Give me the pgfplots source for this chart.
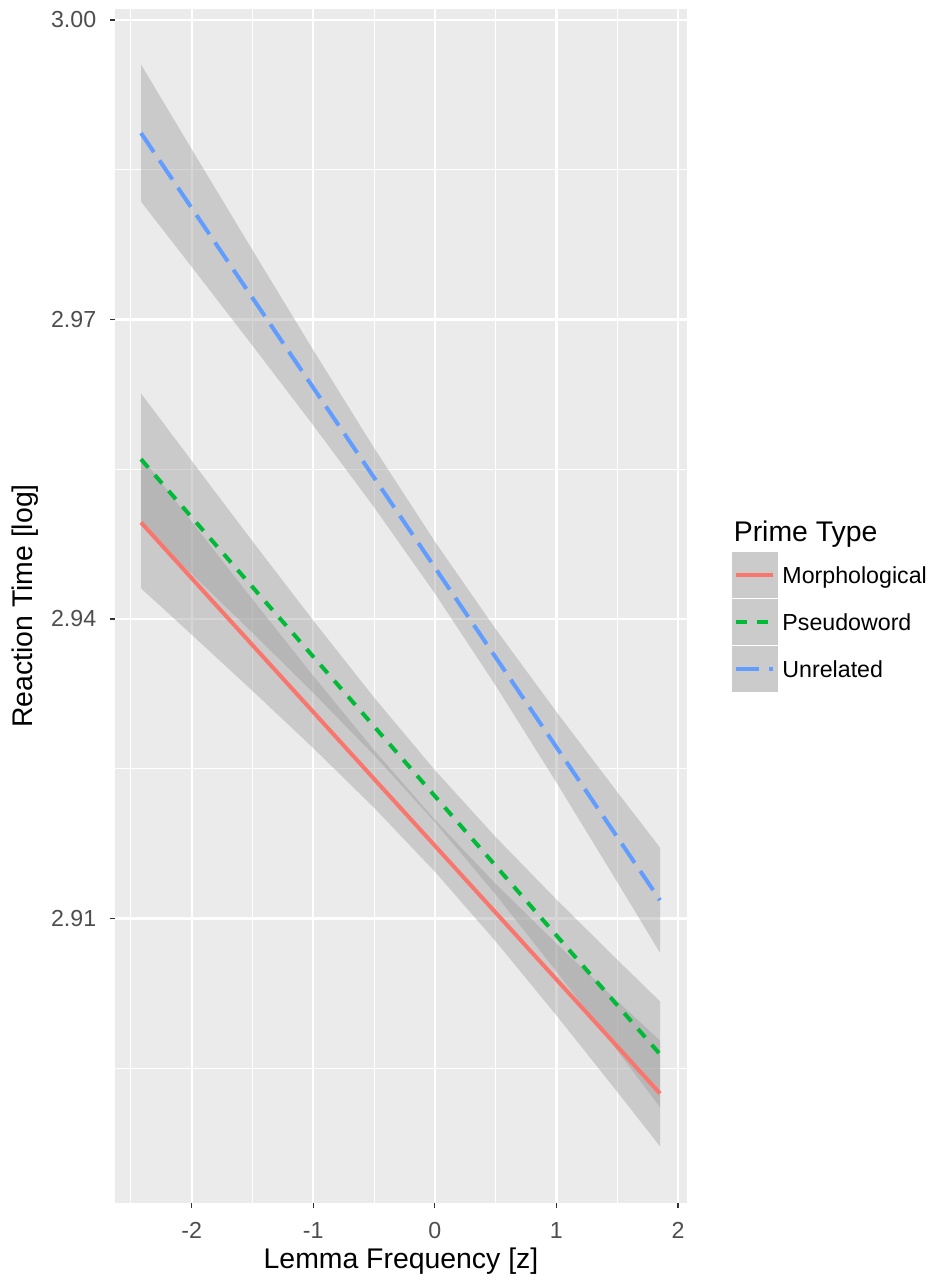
\documentclass[border=0pt]{standalone}
\usepackage{fontspec}
\setmainfont{Liberation Sans}
\usepackage{pgfplots}
\pgfplotsset{compat=1.18}
\usepgfplotslibrary{fillbetween}
\usepackage{pgfplotstable}

\definecolor{panelbg}{HTML}{EBEBEB}
\definecolor{ribbon}{HTML}{999999}
\definecolor{keybg}{HTML}{CBCBCB}
\definecolor{morph}{HTML}{F8766D}
\definecolor{pseudo}{HTML}{00BA38}
\definecolor{unrel}{HTML}{619CFF}
\definecolor{ticktext}{HTML}{4D4D4D}
\definecolor{tickline}{HTML}{333333}

% fitted line (y) and confidence band (lo, hi) per prime type
\pgfplotstableread{
x      y       lo      hi
-2.417 2.94967 2.94307 2.95627
-2.0   2.94408 2.93842 2.94974
-1.5   2.93738 2.93280 2.94196
-1.0   2.93068 2.92706 2.93430
-0.5   2.92398 2.92109 2.92687
0.0    2.91729 2.91469 2.91989
0.5    2.91059 2.90771 2.91347
1.0    2.90389 2.90029 2.90749
1.5    2.89719 2.89264 2.90174
1.852  2.89247 2.88717 2.89777
}\morph

\pgfplotstableread{
x      y       lo      hi
-2.417 2.95600 2.94940 2.96260
-2.0   2.95018 2.94452 2.95584
-1.5   2.94320 2.93862 2.94778
-1.0   2.93622 2.93260 2.93984
-0.5   2.92924 2.92635 2.93213
0.0    2.92226 2.91966 2.92486
0.5    2.91528 2.91240 2.91816
1.0    2.90830 2.90470 2.91190
1.5    2.90132 2.89677 2.90587
1.852  2.89640 2.89110 2.90170
}\pseudo

\pgfplotstableread{
x      y       lo      hi
-2.417 2.98867 2.98180 2.99554
-2.0   2.98116 2.97527 2.98705
-1.5   2.97216 2.96738 2.97694
-1.0   2.96316 2.95939 2.96693
-0.5   2.95416 2.95119 2.95713
0.0    2.94516 2.94256 2.94776
0.5    2.93616 2.93333 2.93899
1.0    2.92716 2.92362 2.93070
1.5    2.91816 2.91365 2.92267
1.852  2.91183 2.90656 2.91710
}\unrel

\begin{document}
\begin{tikzpicture}
\begin{axis}[
  at={(0pt,0pt)}, anchor=south west,
  scale only axis, width=286pt, height=597pt,
  xmin=-2.631, xmax=2.074, ymin=2.8815, ymax=3.0011,
  axis background/.style={fill=panelbg},
  axis line style={draw=none},
  xtick={-2,-1,0,1,2}, minor xtick={-2.5,-1.5,-0.5,0.5,1.5},
  ytick={2.91,2.94,2.97,3.00}, minor ytick={2.895,2.925,2.955,2.985},
  grid=both,
  major grid style={white, line width=1.1pt},
  minor grid style={white, line width=0.55pt},
  tick align=outside, tick pos=left,
  major tick length=2.6pt, minor tick length=0pt,
  every tick/.style={tickline, line width=0.6pt},
  /pgf/number format/assume math mode=true,
  ticklabel style={font=\fontsize{11.6}{12}\selectfont, text=ticktext},
  xticklabel style={anchor=base, yshift=-15pt},
  yticklabel style={anchor=east, inner xsep=0pt, xshift=-6.6pt,
    /pgf/number format/fixed, /pgf/number format/fixed zerofill,
    /pgf/number format/precision=2},
  label style={font=\fontsize{14.2}{15}\selectfont},
  xlabel={Lemma Frequency [z]},
  ylabel={Reaction Time [log]},
  xlabel style={at={(axis description cs:0.5,-0.05444)}, anchor=base},
  ylabel style={at={(axis description cs:-0.14336,0.5)}, anchor=base},
  legend style={at={(1.0787,0.48618)}, anchor=west, draw=none, fill=none,
    inner sep=0pt, outer sep=0pt, row sep=0.5pt,
    font=\fontsize{11.6}{12}\selectfont,
    nodes={inner sep=0pt},
    cells={anchor=base west},
    /tikz/every odd column/.append style={column sep=2.2pt}},
  legend image code/.code={
    \fill[keybg, draw=none, solid] (0pt,-7.3pt) rectangle (23pt,15.7pt);
    \draw[#1] (2pt,4.2pt) -- (20.5pt,4.2pt);},
]
% Morphological
\addplot[draw=none, name path=mh, forget plot] table[x=x,y=hi]{\morph};
\addplot[draw=none, name path=ml, forget plot] table[x=x,y=lo]{\morph};
\addplot[ribbon, fill opacity=0.4, forget plot] fill between[of=mh and ml];
\addplot[morph, line width=2pt] table[x=x,y=y]{\morph};
\addlegendentry{Morphological}
% Pseudoword
\addplot[draw=none, name path=ph, forget plot] table[x=x,y=hi]{\pseudo};
\addplot[draw=none, name path=pl, forget plot] table[x=x,y=lo]{\pseudo};
\addplot[ribbon, fill opacity=0.4, forget plot] fill between[of=ph and pl];
\addplot[pseudo, line width=2pt, dash pattern=on 5.5pt off 5pt] table[x=x,y=y]{\pseudo};
\addlegendentry{Pseudoword}
% Unrelated
\addplot[draw=none, name path=uh, forget plot] table[x=x,y=hi]{\unrel};
\addplot[draw=none, name path=ul, forget plot] table[x=x,y=lo]{\unrel};
\addplot[ribbon, fill opacity=0.4, forget plot] fill between[of=uh and ul];
\addplot[unrel, line width=2pt, dash pattern=on 11.5pt off 5pt] table[x=x,y=y]{\unrel};
\addlegendentry{Unrelated}
\end{axis}
\node[anchor=base west, inner sep=0pt, font=\fontsize{14.2}{15}\selectfont] at (309.2pt,330.5pt) {Prime Type};
\path (-57.5pt,-40pt) rectangle (409pt,601.5pt);
\end{tikzpicture}
\end{document}
